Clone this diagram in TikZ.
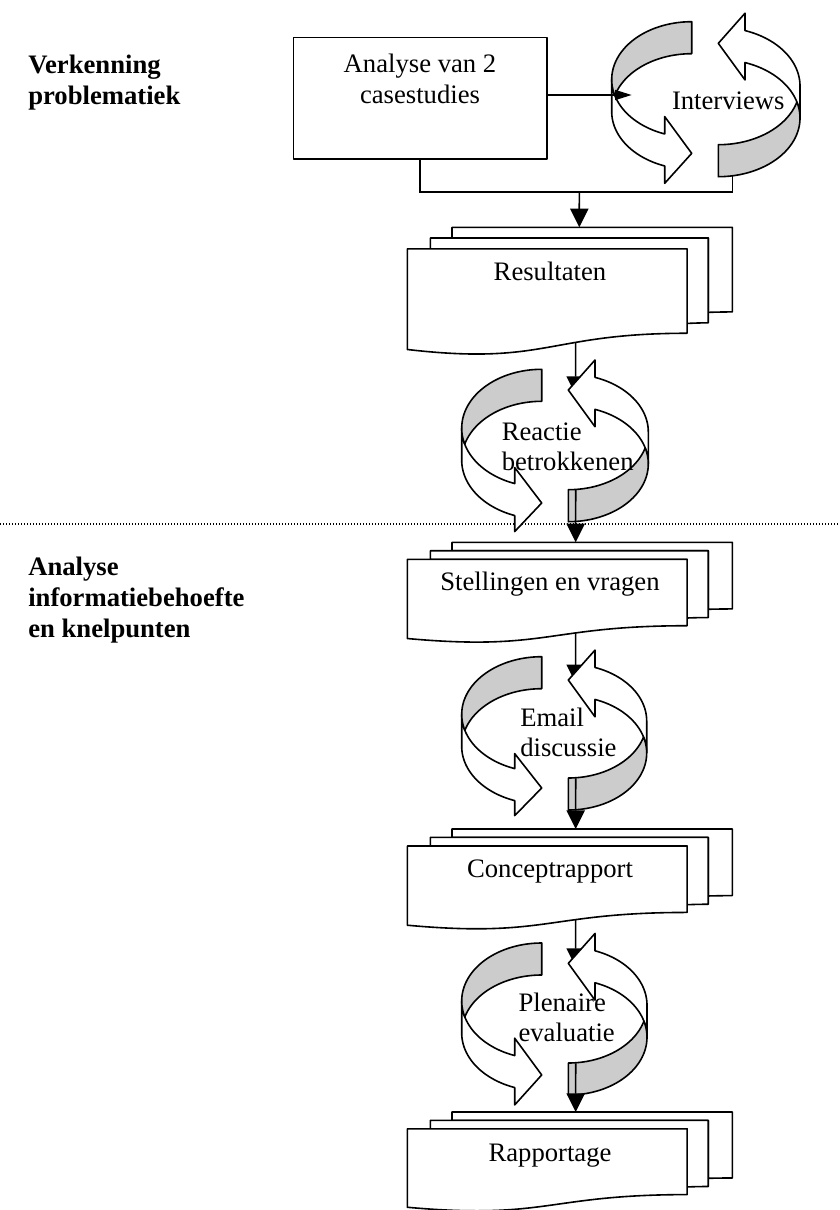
\documentclass[tikz,border=0pt]{standalone}
\usepackage{fontspec}
\setmainfont{Liberation Serif}
\usetikzlibrary{arrows.meta}
\definecolor{arrowgray}{RGB}{204,204,204}
\tikzset{
  shapeline/.style={line width=1.2pt, line join=round},
  conn/.style={line width=1.2pt},
  bigtip/.style={-{Triangle[length=14pt,width=13.7pt]}},
  smalltip/.style={-{Triangle[length=12.5pt,width=7.5pt]}},
  txt/.style={inner sep=0pt, font=\fontsize{20}{23.25}\selectfont},
  cyctxt/.style={inner sep=0pt, font=\fontsize{20}{22.5}\selectfont},
  lbl/.style={inner sep=0pt, font=\fontsize{20}{23.5}\selectfont\bfseries},
}
% curved arrow (Office "curved right arrow"), local origin = top-left, y down
\newcommand\cvarrow[5]{%
  \pgfmathsetmacro\cw{#1}%
  \pgfmathsetmacro\ch{#2}%
  \pgfmathsetmacro\cth{#3}%
  \pgfmathsetmacro\caw{#4}%
  \pgfmathsetmacro\cah{#5}%
  \pgfmathsetmacro\chR{\ch/2-(\cth+\caw)/4}%
  \pgfmathsetmacro\cbeta{acos(\cah/\cw)}%
  \pgfmathsetmacro\cdy{\chR*sin(\cbeta)}%
  \pgfmathsetmacro\cdh{(\caw-\cth)/2}%
  \pgfmathsetmacro\cyv{\chR+\cdy}%
  \pgfmathsetmacro\cyiv{\cyv-\cdh}%
  \pgfmathsetmacro\cyvi{\ch-\caw/2}%
  \pgfmathsetmacro\cyvii{\cyv+\cth}%
  \pgfmathsetmacro\cyviii{\cyvii+\cdh}%
  \pgfmathsetmacro\cxi{\cw-\cah}%
  \pgfmathsetmacro\cgam{asin(\cth/(2*\chR))}%
  \pgfmathsetmacro\cyc{\chR+\cth}%
  \pgfmathsetmacro\cangA{180-\cbeta}%
  \pgfmathsetmacro\cangB{180+\cgam}%
  \pgfmathsetmacro\cangC{180-\cgam}%
  \draw[shapeline, fill=white]
    plot[domain=180:\cangA, samples=40, variable=\t] ({\cw+\cw*cos(\t)},{\chR+\chR*sin(\t)})
    -- (\cxi,\cyiv) -- (\cw,\cyvi) -- (\cxi,\cyviii) -- (\cxi,\cyvii)
    -- plot[domain=\cangA:180, samples=40, variable=\t] ({\cw+\cw*cos(\t)},{\cyc+\chR*sin(\t)})
    -- cycle;
  \draw[shapeline, fill=arrowgray]
    plot[domain=270:\cangB, samples=40, variable=\t] ({\cw+\cw*cos(\t)},{\cyc+\chR*sin(\t)})
    -- plot[domain=\cangC:270, samples=50, variable=\t] ({\cw+\cw*cos(\t)},{\chR+\chR*sin(\t)})
    -- cycle;
}
% stacked documents: #1 left, #2 top, #3 height, #4 name, #5 local x of top connection
\newcommand\mdoc[5]{%
  \pgfmathsetmacro\dys{#3/216}%
  \begin{scope}[shift={(#1,#2)}, xscale=1.50463, yscale=\dys]
    \draw[shapeline, fill=white] (29.72,18.15) -- (29.72,0) -- (216,0) -- (216,143.92)
       .. controls (208,143.92) and (200,144.67) .. (200,144.67) -- (200,18.15) -- cycle;
    \draw[shapeline, fill=white] (15.32,36.75) -- (15.32,18.15) -- (200,18.15) -- (200,162.52)
       .. controls (192.98,162.52) and (185.95,163.52) .. (185.95,163.52) -- (185.95,36.75) -- cycle;
    \draw[shapeline, fill=white] (0,207.82) .. controls (92.98,235.42) and (92.98,180.22) .. (185.95,180.22)
       -- (185.95,36.75) -- (0,36.75) -- cycle;
    \coordinate (#4-top) at (#5,0);
    \coordinate (#4-bot) at (111.9,195.7);
  \end{scope}
}
\begin{document}
\begin{tikzpicture}[x=0.75pt,y=-0.75pt]
\useasboundingbox (0,0) rectangle (839,1210);

% separator
\coordinate (sepL) at (0,524);
\coordinate (sepR) at (839,524);
\draw[line width=0.9pt, dash pattern=on 0.9pt off 1.35pt] (sepL) -- (sepR);

% phase labels
\node[lbl, anchor=base west] (lblA) at (28,73.3)
  {\begin{tabular}[t]{@{}l@{}}Verkenning\\problematiek\end{tabular}};
\node[lbl, anchor=base west] (lblB) at (28,575.3)
  {\begin{tabular}[t]{@{}l@{}}Analyse\\informatiebehoefte\\en knelpunten\end{tabular}};

% case study box
\node[draw, shapeline, fill=white, minimum width=190.05pt, minimum height=91pt, inner sep=0pt] (box) at (420,98.35) {};
\node[txt, anchor=base] (boxtxt) at (420,72.7)
  {\begin{tabular}[t]{@{}c@{}}Analyse van 2\\casestudies\end{tabular}};

% Interviews cycle
\begin{scope}[shift={(611.7,21.7)}] \cvarrow{80}{165}{32}{66.7}{27} \end{scope}
\begin{scope}[shift={(800,176.7)}, rotate=180] \cvarrow{81.7}{166.7}{32}{66.7}{26.7} \end{scope}
\node[txt, anchor=base] (intv) at (728.3,109.3) {Interviews};

\coordinate (boxR) at (546.7,95);
\coordinate (intvL) at (631.7,95);
\draw[conn, smalltip] (boxR) -- (intvL);

% Resultaten
\mdoc{407.3}{227.3}{127}{res}{114.3}
\node[txt, anchor=base] (tres) at (550,280.7) {Resultaten};

\coordinate (boxB) at (420,159);
\coordinate (junc) at (579.3,191.7);
\coordinate (intvB) at (732.3,176);
\draw[conn] (boxB) |- (junc) -| (intvB);
\draw[conn, bigtip] (junc) -- (res-top);

% Reactie cycle
\coordinate (reacIn) at (575.7,395);
\draw[conn, bigtip] (res-bot) -- (reacIn);
\begin{scope}[shift={(461.7,369.3)}] \cvarrow{80}{165.7}{32}{64}{27} \end{scope}
\begin{scope}[shift={(648.3,521.7)}, rotate=180] \cvarrow{80}{165}{32}{66.7}{26.7} \end{scope}
\node[cyctxt, anchor=base west] (reac) at (501.5,440)
  {\begin{tabular}[t]{@{}l@{}}Reactie\\betrokkenen\end{tabular}};

% Stellingen
\mdoc{407.3}{542.3}{100}{stel}{111.9}
\node[txt, anchor=base] (tstel) at (550,590.7) {Stellingen en vragen};
\coordinate (reacOut) at (575.7,490);
\draw[conn, bigtip] (reacOut) -- (stel-top);

% Email cycle
\coordinate (mailIn) at (575.7,683.3);
\draw[conn, bigtip] (stel-bot) -- (mailIn);
\begin{scope}[shift={(461.7,656.7)}] \cvarrow{80}{162.3}{32}{62}{27} \end{scope}
\begin{scope}[shift={(646.7,810)}, rotate=180] \cvarrow{78.4}{163.3}{32}{66.7}{26.7} \end{scope}
\node[cyctxt, anchor=base west] (mail) at (520,726.7)
  {\begin{tabular}[t]{@{}l@{}}Email\\discussie\end{tabular}};

% Conceptrapport
\mdoc{407.3}{829}{100}{conc}{111.9}
\node[txt, anchor=base] (tconc) at (550,877.5) {Conceptrapport};
\coordinate (mailOut) at (575.7,778.3);
\draw[conn, bigtip] (mailOut) -- (conc-top);

% Plenaire cycle
\coordinate (plenIn) at (575.7,967);
\draw[conn, bigtip] (conc-bot) -- (plenIn);
\begin{scope}[shift={(461.7,943)}] \cvarrow{80}{165.3}{32}{66.7}{27} \end{scope}
\begin{scope}[shift={(647,1095)}, rotate=180] \cvarrow{78.7}{165}{32}{66.7}{26.7} \end{scope}
\node[cyctxt, anchor=base west] (plen) at (518.3,1011.7)
  {\begin{tabular}[t]{@{}l@{}}Plenaire\\evaluatie\end{tabular}};

% Rapportage
\mdoc{407.3}{1112}{99}{rap}{111.9}
\node[txt, anchor=base] (trap) at (550,1161.7) {Rapportage};
\coordinate (plenOut) at (575.7,1063.3);
\draw[conn, bigtip] (plenOut) -- (rap-top);
\end{tikzpicture}
\end{document}
